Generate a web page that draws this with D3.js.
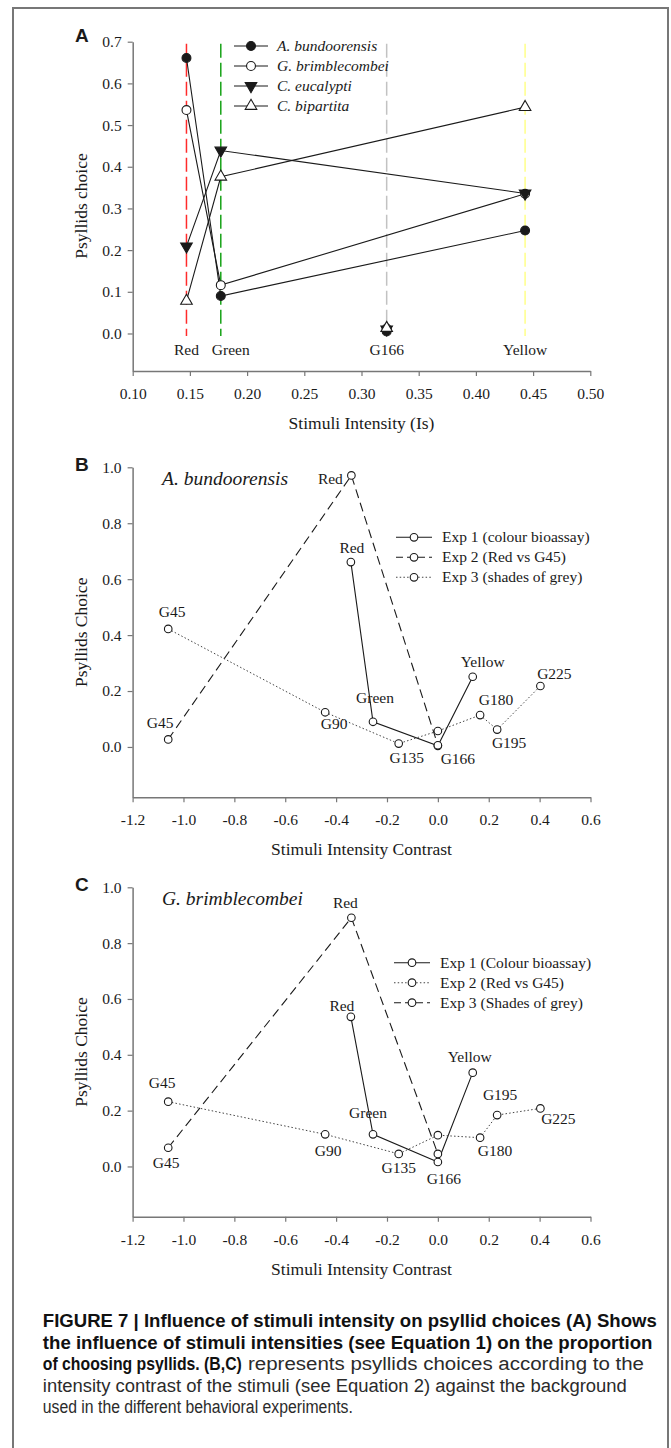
<!DOCTYPE html>
<html>
<head>
<meta charset="utf-8">
<script src="https://cdn.jsdelivr.net/npm/d3@7"></script>
<style>
  body { margin: 0; background: #fff; }
  svg { display: block; }
</style>
</head>
<body>
<svg id="fig" width="671" height="1448"></svg>
<script>
// ---- panel A: proportion choosing vs stimuli intensity ----
const stimuliA = ["Red", "Green", "G166", "Yellow"];
const intensityA = [0.147, 0.177, 0.322, 0.443];
const speciesA = ["A. bundoorensis", "G. brimblecombei", "C. eucalypti", "C. bipartita"];
const bundoorensisA = [0.661, 0.090, 0.005, 0.247];
const brimblecombeiA = [0.536, 0.116, 0.012, 0.335];
const eucalyptiA = [0.209, 0.439, 0.010, 0.336];
const bipartitaA = [0.078, 0.376, 0.013, 0.543];
const xTicksA = [0.10, 0.15, 0.20, 0.25, 0.30, 0.35, 0.40, 0.45, 0.50];
const yTicksA = [0.0, 0.1, 0.2, 0.3, 0.4, 0.5, 0.6, 0.7];

// ---- panels B and C: choice vs intensity contrast ----
const exp1Stimuli = ["Red", "Green", "G166", "Yellow"];
const exp1Contrast = [-0.342, -0.255, 0.0, 0.137];
const exp2Stimuli = ["G45", "Red", "G166"];
const exp2Contrast = [-1.06, -0.34, 0.0];
const exp3Stimuli = ["G45", "G90", "G135", "G166", "G180", "G195", "G225"];
const exp3Contrast = [-1.06, -0.443, -0.154, 0.0, 0.166, 0.233, 0.403];

const exp1ChoiceB = [0.661, 0.090, 0.004, 0.251];
const exp2ChoiceB = [0.027, 0.971, 0.006];
const exp3ChoiceB = [0.422, 0.124, 0.012, 0.057, 0.114, 0.062, 0.218];

const exp1ChoiceC = [0.536, 0.115, 0.016, 0.336];
const exp2ChoiceC = [0.067, 0.891, 0.045];
const exp3ChoiceC = [0.232, 0.115, 0.045, 0.112, 0.103, 0.184, 0.208];

const legendB = ["Exp 1 (colour bioassay)", "Exp 2 (Red vs G45)", "Exp 3 (shades of grey)"];
const legendC = ["Exp 1 (Colour bioassay)", "Exp 2 (Red vs G45)", "Exp 3 (Shades of grey)"];

const xTicksBC = [-1.2, -1.0, -0.8, -0.6, -0.4, -0.2, 0.0, 0.2, 0.4, 0.6];
const xTickLabelsBC = ["-1.2", "-1.0", "-0.8", "-0.6", "-0.4", "-0.2", "0.0", "0.2", "0.4", "0.6"];
const yTicksBC = [0.0, 0.2, 0.4, 0.6, 0.8, 1.0];

const captionBold1 = "FIGURE 7 | Influence of stimuli intensity on psyllid choices (A) Shows";
const captionBold2 = "the influence of stimuli intensities (see Equation 1) on the proportion";
const captionBold3 = "of choosing psyllids. (B,C)";
const captionText3 = "represents psyllids choices according to the";
const captionText4 = "intensity contrast of the stimuli (see Equation 2) against the background";
const captionText5 = "used in the different behavioral experiments.";

const serif = "'Liberation Serif', 'Times New Roman', serif";
const sans = "'Liberation Sans', Arial, sans-serif";
const ink = "#1a1a1a";

const svg = d3.select("#fig");
svg.append("rect").attr("width", 671).attr("height", 1448).attr("fill", "#fff");

// figure frame (runs off the bottom)
svg.append("path")
    .attr("d", "M13,1460 V8 H668 V1460")
    .attr("fill", "none")
    .attr("stroke", "#777")
    .attr("stroke-width", 2);

function styleAxis(g) {
    g.select(".domain").attr("stroke", "#777").attr("stroke-width", 1.5);
    g.selectAll(".tick line").attr("stroke", "#777").attr("stroke-width", 1.2);
    g.selectAll(".tick text")
        .attr("fill", ink)
        .style("font-family", serif)
        .style("font-size", "15.5px");
}

function panelLetter(txt, y) {
    svg.append("text")
        .attr("x", 75).attr("y", y)
        .style("font-family", sans)
        .style("font-weight", "bold")
        .style("font-size", "19px")
        .attr("fill", ink)
        .text(txt);
}

function yTitle(txt, x, yMid) {
    svg.append("text")
        .attr("transform", `translate(${x},${yMid}) rotate(-90)`)
        .attr("text-anchor", "middle")
        .style("font-family", serif)
        .style("font-size", "17.5px")
        .attr("fill", ink)
        .text(txt);
}

function xTitle(txt, x, y) {
    svg.append("text")
        .attr("x", x).attr("y", y)
        .attr("text-anchor", "middle")
        .style("font-family", serif)
        .style("font-size", "17.5px")
        .attr("fill", ink)
        .text(txt);
}

// ================= Panel A =================
const xA = d3.scaleLinear().domain([0.10, 0.50]).range([132.7, 590.3]);
const yA = d3.scaleLinear().domain([-0.09, 0.7]).range([371, 41.7]);

const stimColour = { Red: "#ff2b2b", Green: "#17a317", G166: "#c2c2c2", Yellow: "#ffff8a" };

svg.append("g").selectAll("line")
    .data(stimuliA)
    .join("line")
    .attr("x1", (d, i) => xA(intensityA[i]))
    .attr("x2", (d, i) => xA(intensityA[i]))
    .attr("y1", yA(0.695))
    .attr("y2", yA(-0.006))
    .attr("stroke", d => stimColour[d])
    .attr("stroke-width", 1.5)
    .attr("stroke-dasharray", "14,5");

svg.append("g").selectAll("text")
    .data(stimuliA)
    .join("text")
    .attr("x", (d, i) => xA(intensityA[i]) + (d === "Green" ? 10 : 0))
    .attr("y", yA(0) + 22)
    .attr("text-anchor", "middle")
    .style("font-family", serif)
    .style("font-size", "15.5px")
    .attr("fill", ink)
    .text(d => d);

svg.append("g")
    .attr("transform", `translate(0,${yA.range()[0]})`)
    .call(d3.axisBottom(xA).tickValues(xTicksA).tickFormat(d3.format(".2f"))
        .tickSize(5).tickSizeOuter(0).tickPadding(12))
    .call(styleAxis);

svg.append("g")
    .attr("transform", `translate(${xA.range()[0]},0)`)
    .call(d3.axisLeft(yA).tickValues(yTicksA).tickFormat(d3.format(".1f"))
        .tickSize(5).tickSizeOuter(0).tickPadding(6))
    .call(styleAxis);

const seriesA = [
    { name: speciesA[1], vals: brimblecombeiA, type: d3.symbolCircle, fill: "#fff", rot: 0, size: 62 },
    { name: speciesA[0], vals: bundoorensisA, type: d3.symbolCircle, fill: ink, rot: 0, size: 62 },
    { name: speciesA[2], vals: eucalyptiA, type: d3.symbolTriangle, fill: ink, rot: 180, size: 58 },
    { name: speciesA[3], vals: bipartitaA, type: d3.symbolTriangle, fill: "#fff", rot: 0, size: 58 }
];

const lineA = d3.line().x(d => xA(d.x)).y(d => yA(d.y));

seriesA.forEach(s => {
    const pts = stimuliA.map((st, i) => ({ st, x: intensityA[i], y: s.vals[i] }));
    svg.append("path")
        .datum(pts.filter(p => p.st !== "G166"))
        .attr("d", lineA)
        .attr("fill", "none")
        .attr("stroke", ink)
        .attr("stroke-width", 1.1);
});

seriesA.forEach(s => {
    const pts = stimuliA.map((st, i) => ({ st, x: intensityA[i], y: s.vals[i] }));
    svg.append("g").selectAll("path")
        .data(pts)
        .join("path")
        .attr("d", d3.symbol(s.type, s.size))
        .attr("transform", d => `translate(${xA(d.x)},${yA(d.y)}) rotate(${s.rot})`)
        .attr("fill", s.fill)
        .attr("stroke", ink)
        .attr("stroke-width", 1.1);
});

// legend A
const legA = svg.append("g");
const legOrder = [1, 0, 2, 3];
legOrder.forEach((si, row) => {
    const s = seriesA[si];
    const cy = 46 + row * 20;
    legA.append("line")
        .attr("x1", 234).attr("x2", 268).attr("y1", cy).attr("y2", cy)
        .attr("stroke", ink).attr("stroke-width", 1.1);
    legA.append("path")
        .attr("d", d3.symbol(s.type, s.size))
        .attr("transform", `translate(251,${cy}) rotate(${s.rot})`)
        .attr("fill", s.fill).attr("stroke", ink).attr("stroke-width", 1.1);
    legA.append("text")
        .attr("x", 277).attr("y", cy + 5)
        .style("font-family", serif)
        .style("font-style", "italic")
        .style("font-size", "15.5px")
        .attr("fill", ink)
        .text(s.name);
});

panelLetter("A", 42);
yTitle("Psyllids choice", 87, 206);
xTitle("Stimuli Intensity (Is)", 361.5, 429);

// ================= Panels B and C =================
function contrastPanel(opt) {
    const x = d3.scaleLinear().domain([-1.2, 0.6]).range([132.6, 590.5]);
    const y = d3.scaleLinear().domain([-0.18, 1.0]).range([opt.bottom, opt.top]);

    svg.append("g")
        .attr("transform", `translate(0,${opt.bottom})`)
        .call(d3.axisBottom(x).tickValues(xTicksBC)
            .tickFormat((d, i) => xTickLabelsBC[i])
            .tickSize(5).tickSizeOuter(0).tickPadding(12))
        .call(styleAxis);

    svg.append("g")
        .attr("transform", `translate(${x.range()[0]},0)`)
        .call(d3.axisLeft(y).tickValues(yTicksBC).tickFormat(d3.format(".1f"))
            .tickSize(5).tickSizeOuter(0).tickPadding(6))
        .call(styleAxis);

    const exps = [
        { stim: exp1Stimuli, cx: exp1Contrast, cy: opt.exp1, dash: null, labels: opt.lab1 },
        { stim: exp2Stimuli, cx: exp2Contrast, cy: opt.exp2, dash: "9,5", labels: opt.lab2 },
        { stim: exp3Stimuli, cx: exp3Contrast, cy: opt.exp3, dash: "1.5,2.2", labels: opt.lab3 }
    ];

    const line = d3.line().x(d => x(d.x)).y(d => y(d.y));

    exps.forEach(e => {
        const pts = e.stim.map((s, i) => ({ s, x: e.cx[i], y: e.cy[i] }));
        svg.append("path")
            .datum(pts)
            .attr("d", line)
            .attr("fill", "none")
            .attr("stroke", e.dash === "1.5,2.2" ? "#444" : ink)
            .attr("stroke-width", e.dash === "1.5,2.2" ? 1 : 1.1)
            .attr("stroke-dasharray", e.dash);
    });

    exps.forEach(e => {
        const pts = e.stim.map((s, i) => ({ s, x: e.cx[i], y: e.cy[i] }));
        svg.append("g").selectAll("circle")
            .data(pts)
            .join("circle")
            .attr("cx", d => x(d.x))
            .attr("cy", d => y(d.y))
            .attr("r", 3.8)
            .attr("fill", "#fff")
            .attr("stroke", ink)
            .attr("stroke-width", 1.1);

        svg.append("g").selectAll("text")
            .data(pts.filter(d => e.labels[d.s]))
            .join("text")
            .attr("x", d => x(d.x) + e.labels[d.s][0])
            .attr("y", d => y(d.y) + e.labels[d.s][1])
            .attr("text-anchor", "middle")
            .style("font-family", serif)
            .style("font-size", "15.5px")
            .attr("fill", ink)
            .text(d => d.s);
    });

    // legend
    opt.legend.forEach((txt, row) => {
        const cy = opt.legTop + row * 20;
        svg.append("line")
            .attr("x1", opt.legX).attr("x2", opt.legX + 36)
            .attr("y1", cy).attr("y2", cy)
            .attr("stroke", opt.legDash[row] === "1.5,2.2" ? "#444" : ink)
            .attr("stroke-width", 1.1)
            .attr("stroke-dasharray", opt.legDash[row]);
        svg.append("circle")
            .attr("cx", opt.legX + 18).attr("cy", cy).attr("r", 3.8)
            .attr("fill", "#fff").attr("stroke", ink).attr("stroke-width", 1.1);
        svg.append("text")
            .attr("x", opt.legX + 46).attr("y", cy + 5)
            .style("font-family", serif)
            .style("font-size", "15.5px")
            .attr("fill", ink)
            .text(txt);
    });

    svg.append("text")
        .attr("x", 162).attr("y", opt.top + 18)
        .style("font-family", serif)
        .style("font-style", "italic")
        .style("font-size", "19.5px")
        .attr("fill", ink)
        .text(opt.species);

    panelLetter(opt.letter, opt.top + 4);
    yTitle("Psyllids Choice", 87, (opt.top + opt.bottom) / 2);
    xTitle("Stimuli Intensity Contrast", 361.5, opt.bottom + 58);
}

contrastPanel({
    letter: "B", species: "A. bundoorensis",
    top: 467.3, bottom: 797.3,
    exp1: exp1ChoiceB, exp2: exp2ChoiceB, exp3: exp3ChoiceB,
    lab1: { Red: [1, -9], Green: [2, -19], G166: [20, 18], Yellow: [10, -10] },
    lab2: { G45: [-8, -11], Red: [-21, 9] },
    lab3: { G45: [4, -12], G90: [9, 17], G135: [8, 19], G180: [16, -10], G195: [12, 18], G225: [14, -7] },
    legend: legendB, legDash: [null, "7,4", "1.5,2.2"], legX: 396, legTop: 537.3
});

contrastPanel({
    letter: "C", species: "G. brimblecombei",
    top: 887.3, bottom: 1216.7,
    exp1: exp1ChoiceC, exp2: exp2ChoiceC, exp3: exp3ChoiceC,
    lab1: { Red: [-9, -6], Green: [-5, -16], G166: [6, 22], Yellow: [-3, -11] },
    lab2: { G45: [-2, 20], Red: [-6, -10] },
    lab3: { G45: [-6, -14], G90: [3, 22], G135: [0, 19], G180: [15, 18], G195: [3, -15], G225: [18, 16] },
    legend: legendC, legDash: [null, "1.5,2.2", "7,4"], legX: 394, legTop: 962.7
});

// ================= Caption =================
function captionLine(txt, x, y, len, bold) {
    svg.append("text")
        .attr("x", x).attr("y", y)
        .attr("textLength", len)
        .attr("lengthAdjust", "spacingAndGlyphs")
        .style("font-family", "'Liberation Sans Narrow', 'Liberation Sans', Arial, sans-serif")
        .style("font-weight", bold ? "bold" : "normal")
        .style("font-size", "18px")
        .attr("fill", bold ? "#111" : "#2b2b2b")
        .text(txt);
}

captionLine(captionBold1, 42.8, 1327, 614, true);
captionLine(captionBold2, 42.8, 1348.5, 609.7, true);
captionLine(captionBold3, 42.8, 1370, 199, true);
captionLine(captionText3, 248, 1370, 396, false);
captionLine(captionText4, 42.8, 1391.5, 584, false);
captionLine(captionText5, 42.8, 1412.5, 310, false);
</script>
</body>
</html>
